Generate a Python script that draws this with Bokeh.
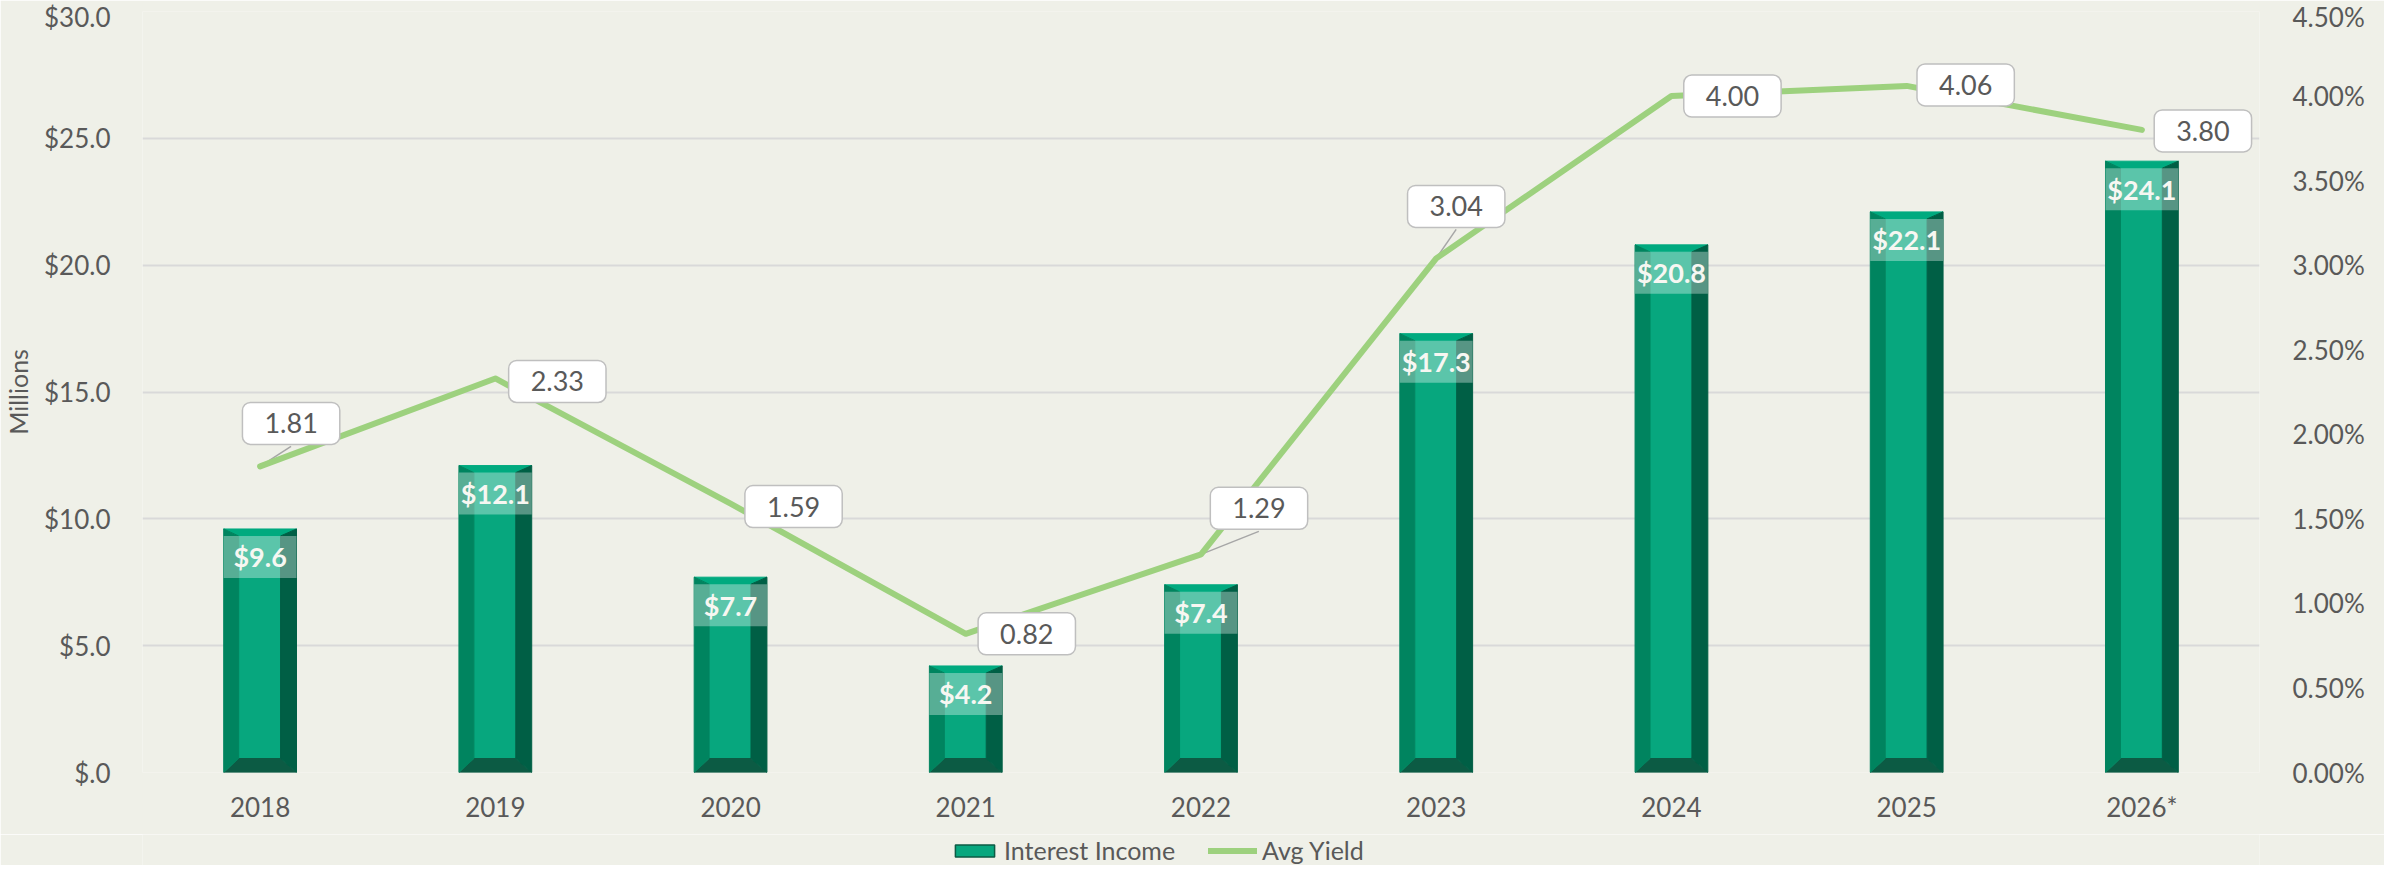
from bokeh.plotting import figure
from bokeh.layouts import column
from bokeh.models import (Range1d, LinearAxis, FixedTicker, Label, Legend, LegendItem,
                          ColumnDataSource)
from bokeh.core.properties import value
from bokeh.embed import file_html
from bokeh.resources import INLINE

# ---------------- data ----------------
YEARS = ["2018", "2019", "2020", "2021", "2022", "2023", "2024", "2025", "2026*"]
INTEREST_INCOME = [9.6, 12.1, 7.7, 4.2, 7.4, 17.3, 20.8, 22.1, 24.1]
INCOME_LABELS = ["$9.6", "$12.1", "$7.7", "$4.2", "$7.4", "$17.3", "$20.8", "$22.1", "$24.1"]
AVG_YIELD = [1.81, 2.33, 1.59, 0.82, 1.29, 3.04, 4.00, 4.06, 3.80]
LEFT_TICKS = [0, 5, 10, 15, 20, 25, 30]
LEFT_TICK_LABELS = ["$.0", "$5.0", "$10.0", "$15.0", "$20.0", "$25.0", "$30.0"]
RIGHT_TICKS = [0.0, 0.5, 1.0, 1.5, 2.0, 2.5, 3.0, 3.5, 4.0, 4.5]
RIGHT_TICK_LABELS = ["0.00%", "0.50%", "1.00%", "1.50%", "2.00%", "2.50%", "3.00%",
                     "3.50%", "4.00%", "4.50%"]
SERIES_NAMES = ["Interest Income", "Avg Yield"]

# callout offsets (screen px: right, up) for the yield labels
CALLOUT_OFFSETS = [(31, 43), (62, -3), (63, -3), (61, 0), (58, 46), (20, 52), (61, 0), (59, 1), (61, -1)]

# ---------------- layout ----------------
W = 2384
TOTAL_H = 865
BL, BR, BT, BB = 136, 125, 11, 62
FH = 761
H = BT + FH + BB
LEG_H = TOTAL_H - H
FW = W - BL - BR
LEFT_MAX, RIGHT_MAX = 30.0, 4.5
PX_X = FW / len(YEARS)
PX_YL = FH / LEFT_MAX
PX_YR = FH / RIGHT_MAX

BG = "#EFF0E8"
TXT = "#595959"
FONT = "Lato"

p = figure(width=W, height=H, output_backend="svg", toolbar_location=None,
           x_range=Range1d(-0.5, len(YEARS) - 0.5), y_range=Range1d(0, LEFT_MAX),
           min_border_left=BL, min_border_right=BR, min_border_top=BT, min_border_bottom=BB)
p.extra_y_ranges = {"yield": Range1d(0, RIGHT_MAX)}
p.background_fill_color = BG
p.border_fill_color = BG
p.outline_line_color = None
p.xgrid.grid_line_color = None
p.ygrid.grid_line_color = "#D9D9D9"
p.ygrid.grid_line_width = 2
p.ygrid.ticker = FixedTicker(ticks=LEFT_TICKS)

# axes
xa = p.xaxis[0]
xa.ticker = FixedTicker(ticks=list(range(len(YEARS))))
xa.major_label_overrides = {i: y for i, y in enumerate(YEARS)}
ya = p.yaxis[0]
ya.ticker = FixedTicker(ticks=LEFT_TICKS)
ya.major_label_overrides = dict(zip(LEFT_TICKS, LEFT_TICK_LABELS))
ya.axis_label = "Millions"
ya.axis_label_standoff = 8
ya.axis_label_text_font = FONT
ya.axis_label_text_font_size = "25px"
ya.axis_label_text_font_style = "normal"
ya.axis_label_text_color = TXT
ra = LinearAxis(y_range_name="yield", ticker=FixedTicker(ticks=RIGHT_TICKS))
ra.major_label_overrides = dict(zip(RIGHT_TICKS, RIGHT_TICK_LABELS))
p.add_layout(ra, "right")
for ax, so in ((xa, 12), (ya, 26), (ra, 27)):
    ax.axis_line_color = None
    ax.major_tick_line_color = None
    ax.minor_tick_line_color = None
    ax.major_label_text_font = FONT
    ax.major_label_text_font_size = "26px"
    ax.major_label_text_color = TXT
    ax.major_label_standoff = so

# ---------------- bars with bevel ----------------
BW = 73 / PX_X
dl, dr = 15 / PX_X, 16 / PX_X
dt, db = 7 / PX_YL, 14 / PX_YL
centre, top, bottom, left, right = ([], []), ([], []), ([], []), ([], []), ([], [])
for i, v in enumerate(INTEREST_INCOME):
    x0, x1 = i - BW / 2, i + BW / 2
    centre[0].append([x0 + dl, x1 - dr, x1 - dr, x0 + dl]); centre[1].append([db, db, v - dt, v - dt])
    top[0].append([x0, x1, x1 - dr, x0 + dl]); top[1].append([v, v, v - dt, v - dt])
    bottom[0].append([x0, x1, x1 - dr, x0 + dl]); bottom[1].append([0, 0, db, db])
    left[0].append([x0, x0, x0 + dl, x0 + dl]); left[1].append([0, v, v - dt, db])
    right[0].append([x1, x1, x1 - dr, x1 - dr]); right[1].append([0, v, v - dt, db])

p.patches(centre[0], centre[1], fill_color="#07A77E", line_color="#07A77E", line_width=1)
p.patches(top[0], top[1], fill_color="#00AA7F", line_color="#00AA7F", line_width=1)
p.patches(bottom[0], bottom[1], fill_color="#0C5B44", line_color="#0C5B44", line_width=1)
p.patches(left[0], left[1], fill_color="#00845F", line_color="#00845F", line_width=1)
p.patches(right[0], right[1], fill_color="#005F45", line_color="#005F45", line_width=1)

# value label band
LB = 42 / PX_YL
band_src = ColumnDataSource(dict(
    x=list(range(len(YEARS))),
    top=[v - dt for v in INTEREST_INCOME],
    bottom=[v - dt - LB for v in INTEREST_INCOME],
    ty=[v - dt - LB / 2 for v in INTEREST_INCOME],
    label=INCOME_LABELS))
p.vbar(x="x", top="top", bottom="bottom", width=BW, source=band_src,
       fill_color="white", fill_alpha=0.34, line_color=None)
p.text(x="x", y="ty", text="label", source=band_src, text_font=value(FONT),
       text_font_size="27px", text_font_style="bold", text_color="#F7F7F2",
       text_align="center", text_baseline="middle")

# ---------------- yield line ----------------
xs = list(range(len(YEARS)))
lx0, ly0, lx1, ly1 = [], [], [], []
for i, (v, (dx, dy)) in enumerate(zip(AVG_YIELD, CALLOUT_OFFSETS)):
    if dy > 20:
        lx0.append(i); ly0.append(v)
        lx1.append(i + dx / PX_X); ly1.append(v + (dy - 23) / PX_YR)
p.segment(lx0, ly0, lx1, ly1, y_range_name="yield", line_color="#A6A6A6", line_width=1.5)
p.line(xs, AVG_YIELD, y_range_name="yield", line_color="#9DD17E", line_width=6,
       line_cap="round", line_join="round")

for i, (v, (dx, dy)) in enumerate(zip(AVG_YIELD, CALLOUT_OFFSETS)):
    p.add_layout(Label(x=i, y=v, y_range_name="yield", x_offset=dx, y_offset=dy,
                       text=f"{v:.2f}", text_font=FONT, text_font_size="27px",
                       text_color=TXT, text_align="center", text_baseline="middle",
                       background_fill_color="white", border_line_color="#BFBFBF",
                       border_line_width=1.5, border_radius=8,
                       padding=dict(left=22, right=22, top=11, bottom=11)))

# ---------------- legend (own strip below the chart) ----------------
lf = figure(width=W, height=LEG_H, output_backend="svg", toolbar_location=None,
            x_range=Range1d(0, 1), y_range=Range1d(0, 1), min_border=0,
            x_axis_type=None, y_axis_type=None)
lf.background_fill_color = BG
lf.border_fill_color = BG
lf.outline_line_color = None
lf.grid.visible = False
# renderers live outside the visible range: they only supply the legend swatches
r_bar = lf.patches(xs=[[5, 6, 6]], ys=[[5, 5, 6]], fill_color="#07A77E",
                   line_color="#0C5B44", line_width=1.5)
r_ln = lf.line(x=[5, 6], y=[5, 5], line_color="#9DD17E", line_width=6, line_cap="round")
legend = Legend(items=[LegendItem(label=SERIES_NAMES[0], renderers=[r_bar]),
                       LegendItem(label=SERIES_NAMES[1], renderers=[r_ln])],
                location=(808, 0), orientation="horizontal",
                glyph_width=49, glyph_height=15, label_standoff=5, spacing=33,
                padding=0, margin=0, background_fill_alpha=0, border_line_color=None,
                label_text_font=FONT, label_text_font_size="25px", label_text_color=TXT)
lf.add_layout(legend)

layout = column(p, lf, spacing=0)
open("out.html", "w").write(file_html(layout, INLINE))
